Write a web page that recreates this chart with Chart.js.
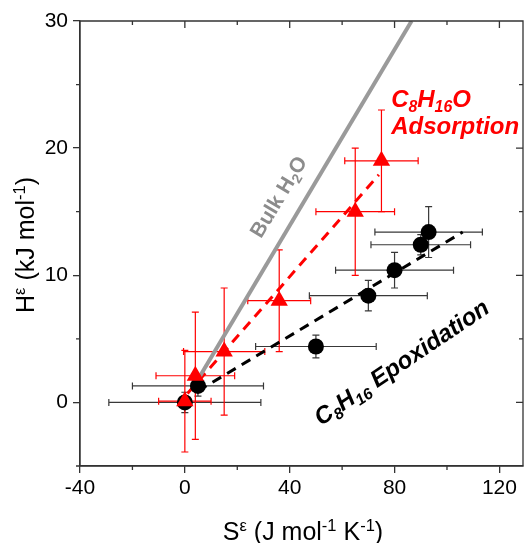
<!DOCTYPE html>
<html>
<head>
<meta charset="utf-8">
<script src="https://cdn.jsdelivr.net/npm/chart.js@4.4.0/dist/chart.umd.min.js"></script>
<style>
  html, body { margin: 0; padding: 0; background: #fff; overflow: hidden; }
  #wrap { width: 524px; height: 543px; }
  canvas { display: block; }
</style>
</head>
<body>
<div id="wrap"><canvas id="hsChart"></canvas></div>
<script>
// C8H16 epoxidation (black circles)
var epoxS = [0, 5, 50, 70, 80, 90, 93];
var epoxH = [0, 1.3, 4.4, 8.4, 10.4, 12.4, 13.4];
var epoxSErr = [29, 25, 23, 22.5, 22.5, 19, 20.5];
var epoxHErr = [0.8, 0.8, 0.9, 1.2, 1.4, 0.8, 2.0];

// C8H16O adsorption (red triangles)
var adsS = [0, 4, 15, 36, 65, 75];
var adsH = [0.1, 2.1, 4.0, 8.0, 15.0, 19.0];
var adsSErr = [10, 15, 15.5, 12, 15, 14];
var adsHErr = [4, 5, 5, 4, 5, 4];

// trend lines (end points)
var bulkS = [5, 86.5];
var bulkH = [1.8, 30];
var adsFitS = [1, 74];
var adsFitH = [0.7, 17.9];
var epoxFitS = [5, 106];
var epoxFitH = [0.9, 13.4];

var xTicks = [-40, 0, 40, 80, 120];
var xMinor = [-20, 20, 60, 100];
var yTicks = [0, 10, 20, 30];
var yMinor = [-5, 5, 15, 25];

var FONT = '"Liberation Sans", Arial, sans-serif';
var RED = '#ff0000';

function pts(xs, ys) {
  return xs.map(function (v, i) { return { x: v, y: ys[i] }; });
}

// text with sub/superscripts: runs = [[text, mode]], mode 1 sup, -1 sub
function drawRich(ctx, runs, x, y, angle, size, style, color, align) {
  ctx.save();
  ctx.translate(x, y);
  ctx.rotate(angle * Math.PI / 180);
  ctx.fillStyle = color;
  ctx.textBaseline = 'alphabetic';
  ctx.textAlign = 'left';
  var w = 0;
  runs.forEach(function (r) {
    var s = r[1] ? size * 0.66 : size;
    ctx.font = style + ' ' + s + 'px ' + FONT;
    w += ctx.measureText(r[0]).width;
  });
  var cx = align === 'left' ? 0 : -w / 2;
  var base = align === 'left' ? 0 : size * 0.36;
  runs.forEach(function (r) {
    var s = r[1] ? size * 0.66 : size;
    ctx.font = style + ' ' + s + 'px ' + FONT;
    var dy = r[1] === 1 ? -size * 0.38 : (r[1] === -1 ? size * 0.2 : 0);
    ctx.fillText(r[0], cx, base + dy);
    cx += ctx.measureText(r[0]).width;
  });
  ctx.restore();
}

function errBars(ctx, xs, ys, xe, ye, sx, sy, color) {
  ctx.save();
  ctx.strokeStyle = color;
  ctx.lineWidth = 1.2;
  var cap = 3.5;
  for (var i = 0; i < xs.length; i++) {
    var px = sx.getPixelForValue(xs[i]);
    var py = sy.getPixelForValue(ys[i]);
    var x0 = sx.getPixelForValue(xs[i] - xe[i]);
    var x1 = sx.getPixelForValue(xs[i] + xe[i]);
    var y0 = sy.getPixelForValue(ys[i] - ye[i]);
    var y1 = sy.getPixelForValue(ys[i] + ye[i]);
    ctx.beginPath();
    ctx.moveTo(x0, py); ctx.lineTo(x1, py);
    ctx.moveTo(x0, py - cap); ctx.lineTo(x0, py + cap);
    ctx.moveTo(x1, py - cap); ctx.lineTo(x1, py + cap);
    ctx.moveTo(px, y0); ctx.lineTo(px, y1);
    ctx.moveTo(px - cap, y0); ctx.lineTo(px + cap, y0);
    ctx.moveTo(px - cap, y1); ctx.lineTo(px + cap, y1);
    ctx.stroke();
  }
  ctx.restore();
}

var extras = {
  id: 'extras',
  beforeDatasetsDraw: function (chart) {
    var ctx = chart.ctx, sx = chart.scales.x, sy = chart.scales.y;
    errBars(ctx, epoxS, epoxH, epoxSErr, epoxHErr, sx, sy, '#383838');
    errBars(ctx, adsS, adsH, adsSErr, adsHErr, sx, sy, RED);
  },
  afterDraw: function (chart) {
    var ctx = chart.ctx, sx = chart.scales.x, sy = chart.scales.y;
    var a = chart.chartArea;
    ctx.save();
    ctx.strokeStyle = '#333';
    ctx.lineWidth = 1.3;
    ctx.beginPath();
    ctx.rect(a.left, a.top, a.right - a.left, a.bottom - a.top);
    // top / right inward major ticks
    xTicks.forEach(function (v) {
      var p = sx.getPixelForValue(v);
      ctx.moveTo(p, a.top); ctx.lineTo(p, a.top + 7);
    });
    yTicks.forEach(function (v) {
      var p = sy.getPixelForValue(v);
      ctx.moveTo(a.right, p); ctx.lineTo(a.right - 7, p);
    });
    // minor ticks
    xMinor.forEach(function (v) {
      var p = sx.getPixelForValue(v);
      ctx.moveTo(p, a.bottom); ctx.lineTo(p, a.bottom + 4);
      ctx.moveTo(p, a.top); ctx.lineTo(p, a.top + 4);
    });
    yMinor.forEach(function (v) {
      var p = sy.getPixelForValue(v);
      ctx.moveTo(a.left, p); ctx.lineTo(a.left - 4, p);
      ctx.moveTo(a.right, p); ctx.lineTo(a.right - 4, p);
    });
    ctx.stroke();
    ctx.restore();

    // annotations
    drawRich(ctx, [['Bulk H', 0], ['2', -1], ['O', 0]],
      sx.getPixelForValue(35.5), sy.getPixelForValue(16.2), -59, 21, 'bold', '#8c8c8c', 'center');
    drawRich(ctx, [['C', 0], ['8', -1], ['H', 0], ['16', -1], ['O', 0]],
      sx.getPixelForValue(78.7), sy.getPixelForValue(23.2), 0, 24, 'italic bold', RED, 'left');
    drawRich(ctx, [['Adsorption', 0]],
      sx.getPixelForValue(78.7), sy.getPixelForValue(21.1), 0, 24, 'italic bold', RED, 'left');
    drawRich(ctx, [['C', 0], ['8', -1], ['H', 0], ['16', -1], [' Epoxidation', 0]],
      sx.getPixelForValue(82.5), sy.getPixelForValue(3.2), -34, 24, 'italic bold', '#000', 'center');

    // axis titles
    drawRich(ctx, [['H', 0], ['\u03b5', 1], [' (kJ mol', 0], ['-1', 1], [')', 0]],
      a.left - 55, 245, -90, 25, 'normal', '#000', 'center');
    drawRich(ctx, [['S', 0], ['\u03b5', 1], [' (J mol', 0], ['-1', 1], [' K', 0], ['-1', 1], [')', 0]],
      303, a.bottom + 65, 0, 25, 'normal', '#000', 'center');
  }
};

new Chart('hsChart', {
  type: 'scatter',
  data: {
    datasets: [{
      data: pts(adsS, adsH),
      pointStyle: 'triangle',
      pointRadius: 10,
      backgroundColor: RED,
      borderColor: RED,
      borderWidth: 0
    }, {
      data: pts(epoxS, epoxH),
      pointStyle: 'circle',
      pointRadius: 8,
      backgroundColor: '#000',
      borderColor: '#000',
      borderWidth: 0
    }, {
      type: 'line',
      data: pts(bulkS, bulkH),
      borderColor: '#9a9a9a',
      borderWidth: 4,
      pointRadius: 0
    }, {
      type: 'line',
      data: pts(adsFitS, adsFitH),
      borderColor: RED,
      borderWidth: 3,
      borderDash: [10, 7],
      pointRadius: 0
    }, {
      type: 'line',
      data: pts(epoxFitS, epoxFitH),
      borderColor: '#000',
      borderWidth: 3,
      borderDash: [10, 7],
      pointRadius: 0
    }]
  },
  options: {
    responsive: true,
    maintainAspectRatio: false,
    animation: false,
    events: [],
    layout: { autoPadding: false, padding: { top: 21, right: 1, left: 0, bottom: 0 } },
    plugins: { legend: { display: false }, tooltip: { enabled: false } },
    scales: {
      x: {
        type: 'linear',
        min: -40,
        max: 129,
        afterBuildTicks: function (axis) { axis.ticks = xTicks.map(function (v) { return { value: v }; }); },
        afterFit: function (axis) { axis.height = 77; axis.paddingLeft = 0; axis.paddingRight = 0; },
        grid: { drawOnChartArea: false, tickLength: 7, color: '#333', lineWidth: 1.3 },
        border: { color: '#333', width: 1.3 },
        ticks: { font: { family: FONT, size: 21 }, color: '#000', padding: 3, maxRotation: 0 }
      },
      y: {
        type: 'linear',
        min: -5,
        max: 30,
        afterBuildTicks: function (axis) { axis.ticks = yTicks.map(function (v) { return { value: v }; }); },
        afterFit: function (axis) { axis.width = 80; axis.paddingTop = 0; axis.paddingBottom = 0; },
        grid: { drawOnChartArea: false, tickLength: 7, color: '#333', lineWidth: 1.3 },
        border: { color: '#333', width: 1.3 },
        ticks: { font: { family: FONT, size: 21 }, color: '#000', padding: 5 }
      }
    }
  },
  plugins: [extras]
});
</script>
</body>
</html>
